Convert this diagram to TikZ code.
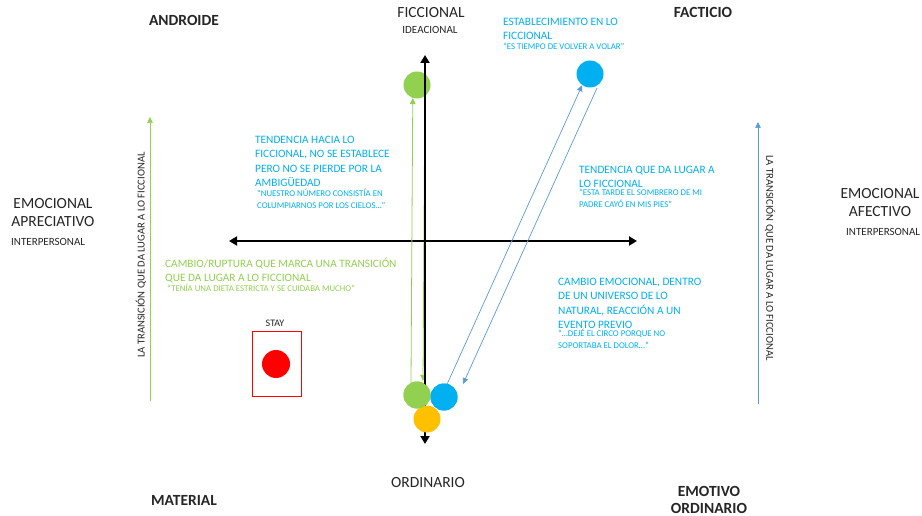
\documentclass[tikz,border=0pt]{standalone}
\usepackage{fontspec}
\setmainfont{Carlito}
\usetikzlibrary{arrows.meta}
\definecolor{tblue}{HTML}{00B0F0}
\definecolor{lblue}{HTML}{5B9BD5}
\definecolor{tgreen}{HTML}{92D050}
\definecolor{torange}{HTML}{FFC000}
\definecolor{tred}{HTML}{FF0000}
\definecolor{tgray}{HTML}{262626}
\tikzset{
  dot/.style={circle,minimum size=27pt,inner sep=0pt},
  head/.style={anchor=north west,inner sep=0pt,align=left,font=\fontsize{11.3}{14.3}\selectfont},
  quote/.style={anchor=north west,inner sep=0pt,align=left,font=\fontsize{8.8}{11.8}\selectfont},
  corner/.style={inner sep=0pt,text=tgray,font=\fontsize{15.5}{17}\selectfont\bfseries},
  biglab/.style={inner sep=0pt,text=tgray,align=center,font=\fontsize{15.5}{18}\selectfont},
  smalllab/.style={inner sep=0pt,text=tgray,font=\fontsize{11}{12}\selectfont},
  sidetext/.style={inner sep=0pt,text=tgray,font=\fontsize{10.6}{11}\selectfont},
  axis/.style={line width=2.6pt,black,{Triangle[length=8pt,width=9pt]}-{Triangle[length=8pt,width=9pt]}},
  garrow/.style={tgreen,line width=0.8pt,-{Triangle[length=6pt,width=5.5pt]}},
  barrow/.style={lblue,line width=0.7pt,-{Triangle[length=6pt,width=5.5pt]}}
}
\begin{document}
\begin{tikzpicture}[x=1pt,y=-1pt]
\useasboundingbox[fill=white] (0,0) rectangle (922,516);
% coordinates
\coordinate (vtop) at (425,55);
\coordinate (vbot) at (425,444);
\coordinate (hl) at (229,241);
\coordinate (hr) at (637,241);
\coordinate (lgs) at (150,401);
\coordinate (lge) at (150,117);
\coordinate (rbs) at (758,404);
\coordinate (rbe) at (758,122);
\coordinate (b2s) at (597,88);
\coordinate (b2e) at (463,384);
\coordinate (gdown) at (423,381);
% circles
\node[dot,fill=tgreen] (gtop) at (417,85) {};
\node[dot,fill=tblue] (btop) at (590,74) {};
\node[dot,fill=tgreen] (gbot) at (417,395) {};
\node[dot,fill=tblue] (bbot) at (444,397) {};
% hidden downward green connector (behind axis)
\draw[garrow] (gtop.-55) -- (gdown);
% axes
\draw[axis] (vbot) -- (vtop);
\draw[axis] (hl) -- (hr);
\node[dot,fill=torange] (obot) at (427,419) {};
\node[dot,fill=tgreen] at (417,395) {};
\node[dot,fill=tblue] at (444,397) {};
% connectors
\draw[garrow] (gbot.116) -- (gtop.-108);
\draw[barrow] (bbot.76) -- (btop.-125);
\draw[barrow] (b2s) -- (b2e);
\draw[garrow,line width=0.6pt] (lgs) -- (lge);
\draw[barrow] (rbs) -- (rbe);
% STAY
\node[smalllab,font=\fontsize{10}{12}\selectfont] (stay) at (275,323) {STAY};
\node[draw=tred,line width=0.8pt,minimum width=49pt,minimum height=65pt,inner sep=0pt] (box) at (276.5,363.5) {};
\node[dot,fill=tred,minimum size=28pt] (red) at (276,364) {};
% corner labels
\node[corner] (androide) at (184,20) {ANDROIDE};
\node[corner] (facticio) at (703,12) {FACTICIO};
\node[corner] (material) at (184,500) {MATERIAL};
\node[corner,align=center] (emotivo) at (709,500) {EMOTIVO\\ORDINARIO};
% axis labels
\node[biglab] (ficc) at (431,13) {FICCIONAL};
\node[smalllab] (idea) at (430,30) {IDEACIONAL};
\node[biglab] (ord) at (428,483) {ORDINARIO};
\node[biglab] (emoap) at (53,213) {EMOCIONAL\\APRECIATIVO};
\node[smalllab,anchor=west] (ipl) at (11,242) {INTERPERSONAL};
\node[biglab] (emoaf) at (880,203) {EMOCIONAL\\AFECTIVO};
\node[smalllab,anchor=west] (ipr) at (846,232) {INTERPERSONAL};
% side texts
\node[sidetext,rotate=90] (sl) at (141,255) {LA TRANSICIÓN QUE DA LUGAR A LO FICCIONAL};
\node[sidetext,rotate=-90] (sr) at (770,258) {LA TRANSICIÓN QUE DA LUGAR A LO FICCIONAL};
% text blocks
\node[head,text=tblue] (t1) at (255,136) {TENDENCIA HACIA LO\\FICCIONAL, NO SE ESTABLECE\\PERO NO SE PIERDE POR LA\\AMBIGÜEDAD};
\node[quote,text=tblue] (q1) at (257,189) {“NUESTRO NÚMERO CONSISTÍA EN\\COLUMPIARNOS POR LOS CIELOS…”};
\node[head,text=tblue] (t2) at (579,166) {TENDENCIA QUE DA LUGAR A\\LO FICCIONAL};
\node[quote,text=tblue] (q2) at (579,189) {“ESTA TARDE EL SOMBRERO DE MI\\PADRE CAYÓ EN MIS PIES”};
\node[head,text=tgreen] (t3) at (165,258) {CAMBIO/RUPTURA QUE MARCA UNA TRANSICIÓN\\QUE DA LUGAR A LO FICCIONAL};
\node[quote,text=tgreen] (q3) at (167,284) {“TENÍA UNA DIETA ESTRICTA Y SE CUIDABA MUCHO”};
\node[head,text=tblue] (t4) at (558,278) {CAMBIO EMOCIONAL, DENTRO\\DE UN UNIVERSO DE LO\\NATURAL, REACCIÓN A UN\\EVENTO PREVIO};
\node[quote,text=tblue] (q4) at (558,329) {“…DEJÉ EL CIRCO PORQUE NO\\SOPORTABA EL DOLOR…”};
\node[head,text=tblue] (t5) at (503,18) {ESTABLECIMIENTO EN LO\\FICCIONAL};
\node[quote,text=tblue] (q5) at (503,43) {“ES TIEMPO DE VOLVER A VOLAR”};
\end{tikzpicture}
\end{document}
